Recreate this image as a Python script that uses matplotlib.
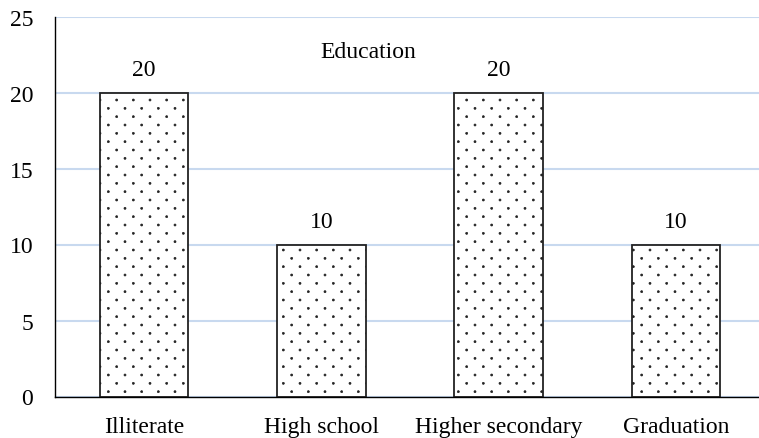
import numpy as np
import matplotlib.pyplot as plt
import matplotlib.hatch as mhatch

# education level counts
levels = ["Illiterate", "High school", "Higher secondary", "Graduation"]
counts = [20, 10, 20, 10]
y_ticks = [0, 5, 10, 15, 20, 25]


# small dot fill: staggered rows, twice as many rows as columns
class DotFill(mhatch.Circles):
    size = 0.06
    filled = True

    def __init__(self, hatch, density):
        self.num_rows = hatch.count('.') * density
        super().__init__(hatch, density)
        n = self.num_rows
        self.num_shapes = (n + 1) ** 2 + n ** 2 if n else 0
        self.num_vertices = self.num_shapes * len(self.shape_vertices)

    def set_vertices_and_codes(self, vertices, codes):
        n = self.num_rows
        offset = 1.0 / n
        shape = self.shape_vertices * offset * self.size
        verts, cds = [], []
        for row in range(2 * n + 1):
            if row % 2 == 0:
                cols = np.linspace(0, 1, n + 1)
            else:
                cols = np.linspace(offset / 2, 1 - offset / 2, n)
            for col in cols:
                verts.append(shape + [col, row * offset / 2])
                cds.append(self.shape_codes)
        np.concatenate(verts, out=vertices)
        np.concatenate(cds, out=codes)


mhatch._hatch_types[mhatch._hatch_types.index(mhatch.SmallFilledCircles)] = DotFill

plt.rcParams["font.family"] = ["Liberation Serif", "DejaVu Serif"]
plt.rcParams["hatch.linewidth"] = 0.5
plt.rcParams["hatch.color"] = "black"

fig = plt.figure(figsize=(7.59, 4.39), dpi=100)
ax = fig.add_axes([55.4 / 759, 41.5 / 439, 709.3 / 759, 380 / 439])

bars = ax.bar(range(len(levels)), counts, width=0.5, color="white",
              edgecolor="#222222", linewidth=1.3, hatch=".", zorder=3)

for bar, val in zip(bars, counts):
    ax.annotate(str(val), (bar.get_x() + bar.get_width() / 2, val),
                xytext=(0, 16.5), textcoords="offset points",
                ha="center", va="center", fontsize=17)

ax.set_xlim(-0.5, len(levels) - 0.5)
ax.set_ylim(0, 25)
ax.set_yticks(y_ticks)
ax.set_xticks(range(len(levels)))
ax.set_xticklabels(levels)
ax.tick_params(axis="both", length=0, labelsize=17)
ax.tick_params(axis="y", pad=16)
ax.tick_params(axis="x", pad=14)

ax.grid(axis="y", color="#c8d9ef", linewidth=1.5, zorder=0)
for side in ["top", "right"]:
    ax.spines[side].set_visible(False)
ax.spines["left"].set_color("black")
ax.spines["left"].set_linewidth(1.0)
ax.spines["bottom"].set_color("black")
ax.spines["bottom"].set_linewidth(1.0)
ax.spines["bottom"].set_zorder(4)

fig.text(368 / 759, 1 - 52 / 439, "Education", ha="center", va="center", fontsize=17)

fig.savefig("out.png", dpi=100)
